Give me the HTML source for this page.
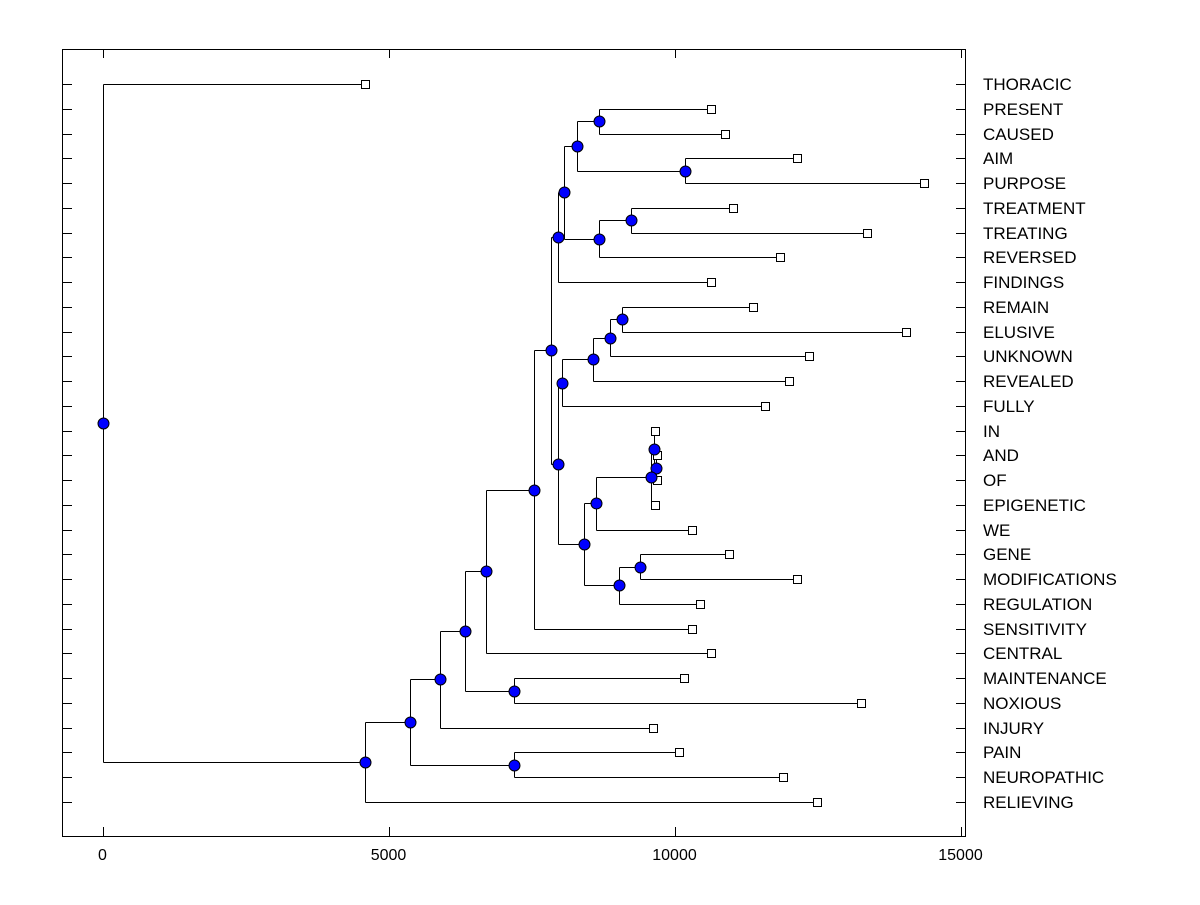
<!DOCTYPE html>
<html><head><meta charset="utf-8"><style>
body{margin:0;background:#fff;}
svg text{font-family:"Liberation Sans",Arial,sans-serif;}
</style></head><body>
<svg id="chart" width="1200" height="900" viewBox="0 0 1200 900">
<rect x="62.5" y="49.5" width="903" height="787" fill="none" stroke="#000" stroke-width="1"/>
<g id="axis"></g>
<g id="lines"></g>
<g id="marks"></g>
<g id="labels"></g>
</svg>
<script>
const leafNames = ["THORACIC","PRESENT","CAUSED","AIM","PURPOSE","TREATMENT","TREATING","REVERSED","FINDINGS","REMAIN","ELUSIVE","UNKNOWN","REVEALED","FULLY","IN","AND","OF","EPIGENETIC","WE","GENE","MODIFICATIONS","REGULATION","SENSITIVITY","CENTRAL","MAINTENANCE","NOXIOUS","INJURY","PAIN","NEUROPATHIC","RELIEVING"];
const leafHeights = [4580,10629,10874,12133,14353,11014,13357,11836,10629,11364,14038,12343,11993,11573,9650,9685,9685,9650,10297,10944,12133,10437,10297,10629,10157,13252,9615,10070,11888,12483];
const nodeHeights = [8671,10175,8287,9231,9073,8864,8566,8671,8059,7955,7185,7185,9668,9633,9580,9388,8619,9021,8409,8024,7958,7832,7535,6696,6329,5892,5367,4580,0];
const xTicks = [0,5000,10000,15000];
</script>
<script>
// tree children: leaf index (>=0) or node ref -(k+1)
const tree = [
 [1,2],[3,4],[-1,-2],[5,6],[9,10],[-5,11],[-6,12],[-4,7],[-3,-8],[-9,8],
 [27,28],[24,25],[15,16],[14,-13],[-14,17],[19,20],[-15,18],[-16,21],[-17,-18],[-7,13],
 [-20,-19],[-10,-21],[-22,22],[-23,23],[-24,-12],[-25,26],[-26,-11],[-27,29],[0,-28]
];
const X0=103, KX=858/15000, Y0=84, DY=(802-84)/29;
const xs = v => X0 + v*KX;
const NS="http://www.w3.org/2000/svg";
function mk(tag, attrs, parent){const e=document.createElementNS(NS,tag);for(const k in attrs)e.setAttribute(k,attrs[k]);parent.appendChild(e);return e;}
const axis=document.getElementById('axis'), lines=document.getElementById('lines'), marks=document.getElementById('marks'), labels=document.getElementById('labels');
xTicks.forEach(t=>{
  const x=Math.round(xs(t))+0.5;
  const a=mk('line',{x1:x,x2:x,y1:837,y2:827,stroke:'#000'},axis);
  
  
  const b=mk('line',{x1:x,x2:x,y1:49,y2:58,stroke:'#000'},axis);
  
  
  const tx=mk('text',{x:x-1,y:860,'text-anchor':'middle','font-size':16},axis);
  tx.textContent=t;
  
  
});
leafNames.forEach((n,i)=>{
  const y=Math.round(Y0+i*DY)+0.5;
  const a=mk('line',{x1:62,x2:72,y1:y,y2:y,stroke:'#000'},axis);
  
  
  const b=mk('line',{x1:956,x2:966,y1:y,y2:y,stroke:'#000'},axis);
  
  
  const t=mk('text',{x:983,y:y+5.5,'font-size':17},labels);
  t.textContent=n;
  
  
});
const nodeY=[];
function pos(ref){
  if(ref>=0) return {x:xs(leafHeights[ref]), y:Y0+ref*DY};
  const k=-ref-1;
  return {x:xs(nodeHeights[k]), y:nodeY[k]};
}
tree.forEach((c,k)=>{
  const a=pos(c[0]), b=pos(c[1]);
  nodeY[k]=(a.y+b.y)/2;
});
tree.forEach((c,k)=>{
  const px=Math.round(xs(nodeHeights[k]))+0.5;
  const a=pos(c[0]), b=pos(c[1]);
  const ya=Math.round(a.y)+0.5, yb=Math.round(b.y)+0.5;
  const v=mk('line',{x1:px,x2:px,y1:ya,y2:yb,stroke:'#000'},lines);
  
  
  [[a,ya],[b,yb]].forEach(([p,y])=>{
    const h=mk('line',{x1:px,x2:Math.round(p.x)+0.5,y1:y,y2:y,stroke:'#000'},lines);
    
    
  });
});
leafNames.forEach((n,i)=>{
  const p=pos(i);
  const r=mk('rect',{x:Math.round(p.x)-3.5,y:Math.round(p.y)-3.5,width:8,height:8,fill:'#fff',stroke:'#000'},marks);
  
  
});
tree.forEach((c,k)=>{
  const x=Math.round(xs(nodeHeights[k]))+0.5, y=Math.round(nodeY[k])+0.5;
  const ci=mk('circle',{cx:x,cy:y,r:5.5,fill:'#0000ff',stroke:'#000','stroke-width':1},marks);
  
  
});
</script>
</body></html>
